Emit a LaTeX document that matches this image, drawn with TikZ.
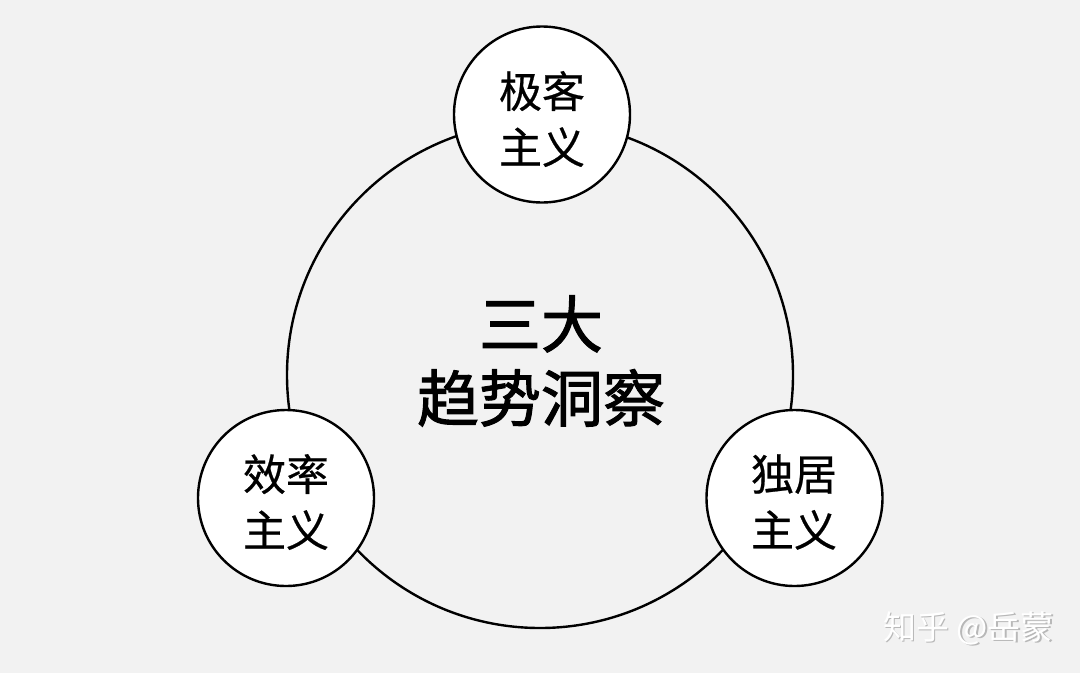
\documentclass[tikz,border=0pt]{standalone}
\usepackage{fontspec}
\newfontfamily\cjk{Noto Sans CJK SC}
\newfontfamily\cjkmid[FakeBold=0.5]{Noto Sans CJK SC}
\newfontfamily\cjkmed[FakeBold=1.6]{Noto Sans CJK SC}
\definecolor{bg}{HTML}{F2F2F2}
\definecolor{wmshadow}{HTML}{B8B8B8}
\begin{document}
\begin{tikzpicture}[x=1pt,y=-1pt,
  ring/.style={draw=black,line width=2.4pt},
  small/.style={ring,circle,fill=white,minimum size=176pt,inner sep=0pt},
  smalltext/.style={align=center,font=\cjkmid\fontsize{43}{56}\selectfont,inner sep=0pt},
  bigtext/.style={align=center,font=\cjkmed\fontsize{62}{74}\selectfont,inner sep=0pt},
  wm/.style={font=\cjk\fontsize{33}{33}\selectfont,inner sep=0pt,anchor=west}]
\fill[bg] (0,0) rectangle (1080,673);
\useasboundingbox (0,0) rectangle (1080,673);
\node[ring,circle,minimum size=506pt,inner sep=0pt] (big) at (540,375) {};
\node[small] (top) at (542,114.5) {};
\node[small] (left) at (286,498) {};
\node[small] (right) at (794.5,498) {};
\node[smalltext] (toptext) at (542,119) {极客\\主义};
\node[smalltext] (lefttext) at (286,502) {效率\\主义};
\node[smalltext] (righttext) at (794,502) {独居\\主义};
\node[bigtext] (center) at (541,361) {三大\\趋势洞察};
\node[wm,text=wmshadow] (wmshadow) at (884.5,629.5) {知乎 @岳蒙};
\node[wm,text=white] (wmtext) at (883,628) {知乎 @岳蒙};
\end{tikzpicture}
\end{document}
